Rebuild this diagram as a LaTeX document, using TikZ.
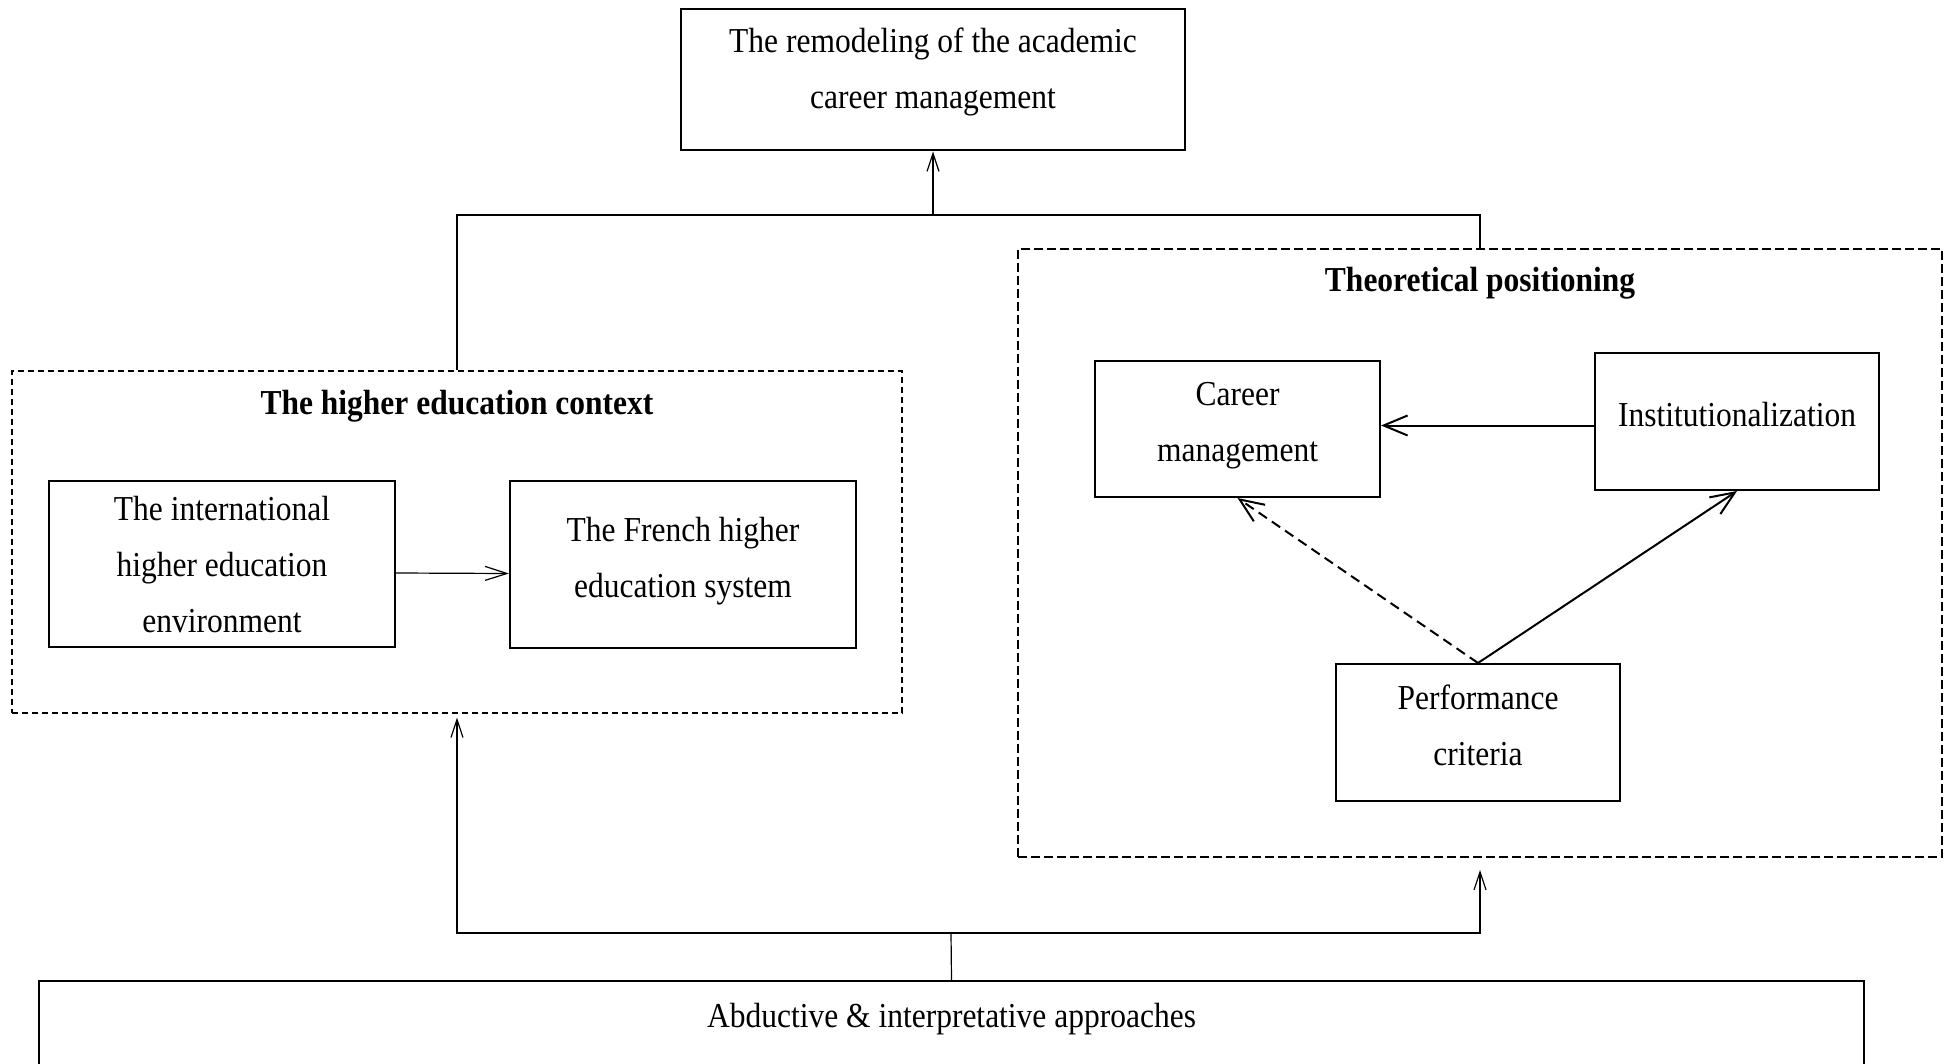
\documentclass[tikz,border=0pt]{standalone}
\usepackage{fontspec}
\setmainfont[FakeStretch=0.9]{Liberation Serif}
\usepackage{tikz}
\usetikzlibrary{shapes,calc,arrows.meta}

\begin{document}
\begin{tikzpicture}[x=0.5pt,y=-0.5pt]
        \tikzstyle{box}=[draw, line width=1pt, align=center, font=\fontsize{17.5}{28}\selectfont, text depth=7pt, inner sep=0pt];
        \tikzstyle{frame}=[draw, line width=0.6pt, dash pattern=on 3pt off 2pt, inner sep=0pt];
        \tikzstyle{thick frame}=[draw, line width=1pt, dash pattern=on 4.5pt off 2pt, inner sep=0pt];
        \tikzstyle{heading}=[font=\fontsize{17.5}{28}\selectfont\bfseries];
        \tikzstyle{link}=[line width=0.6pt, -{Straight Barb[length=9pt,width=6pt]}];
        \tikzstyle{strong link}=[line width=1pt, -{Straight Barb[length=12pt,width=10pt]}];

        % Fix the page to the size of the figure
        \useasboundingbox (0,0) rectangle (1954,1064);
        \clip (0,0) rectangle (1954,1064);

        % Result at the top
        \node[box, minimum width=252pt, minimum height=70.5pt, text depth=12pt] (remodel) at (933,80) {The remodeling of the academic\\career management};

        % The higher education context
        \node[frame, minimum width=445pt, minimum height=171pt] (ctx) at (457,542) {};
        \node[heading] (ctx title) at ($(ctx.north)+(0,36)$) {The higher education context};
        \node[box, minimum width=173pt, minimum height=83pt, text depth=0pt] (intl) at (222,564) {The international\\higher education\\environment};
        \node[box, minimum width=173pt, minimum height=83.5pt] (french) at (683,564.5) {The French higher\\education system};
        \draw[link, -{Straight Barb[length=11pt,width=7pt]}] ([yshift=-4.5pt]intl.east) -- ([yshift=-4.5pt]french.west);

        % Theoretical positioning
        \node[thick frame, minimum width=462pt, minimum height=304pt] (theo) at (1480,553) {};
        \node[heading] (theo title) at ($(theo.north)+(0,35)$) {Theoretical positioning};
        \node[box, minimum width=142.5pt, minimum height=68pt] (career) at (1237.5,429) {Career\\management};
        \node[box, minimum width=142pt, minimum height=68.5pt] (inst) at (1737,421.5) {Institutionalization};
        \node[box, minimum width=142pt, minimum height=68.5pt] (perf) at (1478,732.5) {Performance\\criteria};
        \draw[strong link] ([yshift=-2pt]inst.west) -- ([yshift=-2pt]inst.west -| career.east);
        \draw[strong link, dash pattern=on 5pt off 3pt] (perf.north) -- (career.south);
        \draw[strong link] (perf.north) -- (inst.south);

        % Links to the result
        \coordinate (top join) at (933,215);
        \draw[line width=0.6pt] (ctx.north) |- (top join) -| (theo.north);
        \draw[link] (top join) -- (remodel.south);

        % Approaches at the bottom
        \node[anchor=north, draw, line width=1pt, minimum width=912.5pt, inner ysep=11pt, text depth=80pt, font=\fontsize{17.5}{28}\selectfont] (approach) at (951.5,980) {Abductive \& interpretative approaches};
        \coordinate (bottom join) at (951,933);
        \draw[line width=0.6pt] (approach.north) -- (bottom join);
        \draw[link, shorten >=2pt] (bottom join) -| (ctx.south);
        \draw[link, shorten >=6pt] (bottom join) -| (theo.south);
\end{tikzpicture}
\end{document}
